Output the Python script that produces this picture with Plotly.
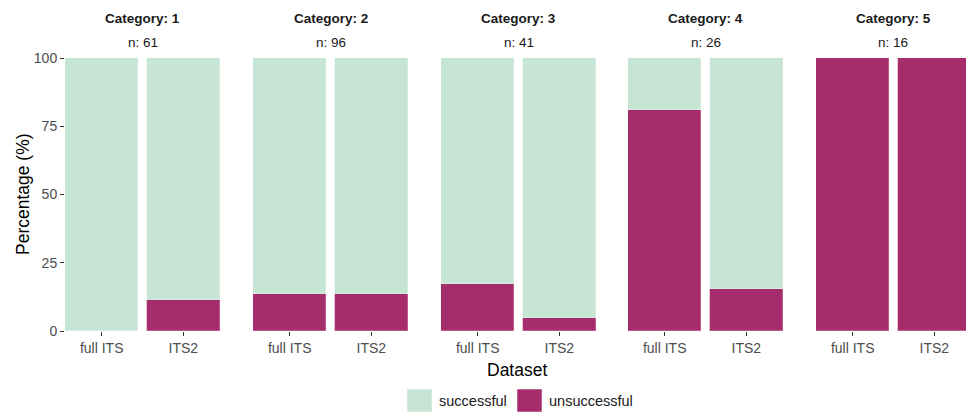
import plotly.graph_objects as go

categories = ["1", "2", "3", "4", "5"]
n_values = [61, 96, 41, 26, 16]
datasets = ["full ITS", "ITS2"]
unsuccessful = [[0.0, 11.5], [13.5, 13.5], [17.1, 4.9], [80.8, 15.4], [100.0, 100.0]]
successful = [[100 - v for v in row] for row in unsuccessful]
legend_labels = ["successful", "unsuccessful"]

col_succ = "#C7E5D4"
col_uns = "#A62D6B"
FONT = "Liberation Sans, Arial, sans-serif"

W, H = 966, 414
ml, mr, mt, mb = 65, 0, 58, 83
pw = W - ml - mr
ph = H - mt - mb
panel_px = [(65, 220), (253, 408), (441, 596), (628, 783), (816, 966)]
unit_per_px = 1.9 / 155.0


def px_x(p):
    return (p - ml) / pw


def px_y(p):
    return (mt + ph - p) / ph


fig = go.Figure()
for i, cat in enumerate(categories):
    ax = "" if i == 0 else str(i + 1)
    fig.add_trace(go.Bar(
        x=[1, 2], y=unsuccessful[i], name="unsuccessful", marker_color=col_uns,
        marker_line_width=0.5, marker_line_color="#D889AE",
        width=0.9, xaxis="x" + ax, yaxis="y", showlegend=False,
        hovertext=datasets))
    fig.add_trace(go.Bar(
        x=[1, 2], y=successful[i], name="successful", marker_color=col_succ,
        marker_line_width=0.5, marker_line_color="#E3F2E9",
        width=0.9, xaxis="x" + ax, yaxis="y", showlegend=False,
        hovertext=datasets))

for i, (a, b) in enumerate(panel_px):
    d0 = px_x(a)
    d1 = min(px_x(b), 1.0)
    rng_end = 0.55 + (b - a) * unit_per_px
    key = "xaxis" if i == 0 else f"xaxis{i + 1}"
    fig.layout[key] = dict(
        domain=[d0, d1], range=[0.55, rng_end], anchor="y",
        tickmode="array", tickvals=[1, 2], ticktext=datasets,
        ticks="outside", ticklen=4, tickwidth=1, tickcolor="#333333",
        tickfont=dict(family=FONT, size=14, color="#4D4D4D"),
        showgrid=False, zeroline=False, showline=False, fixedrange=True)
    cx = px_x((a + b) / 2) if i < 4 else px_x((a + 970) / 2)
    fig.add_annotation(text=f"<b>Category: {categories[i]}</b>", x=cx, y=px_y(18),
                       xref="paper", yref="paper", showarrow=False,
                       xanchor="center", yanchor="middle",
                       font=dict(family=FONT, size=13.5, color="#1A1A1A"))
    fig.add_annotation(text=f"n: {n_values[i]}", x=cx, y=px_y(42),
                       xref="paper", yref="paper", showarrow=False,
                       xanchor="center", yanchor="middle",
                       font=dict(family=FONT, size=13.5, color="#1A1A1A"))

# legend drawn as keys + labels
legend_colors = [col_succ, col_uns]
key_x = [407, 517]
for lab, colr, kx in zip(legend_labels, legend_colors, key_x):
    fig.add_shape(type="rect", xref="paper", yref="paper",
                  x0=px_x(kx), x1=px_x(kx + 25), y0=px_y(389), y1=px_y(412),
                  fillcolor=colr, line=dict(width=0.5, color="white"))
    fig.add_annotation(text=lab, x=px_x(kx + 30), y=px_y(401), xref="paper", yref="paper",
                       showarrow=False, xanchor="left", yanchor="middle",
                       font=dict(family=FONT, size=14.5, color="#1A1A1A"))

fig.update_layout(
    width=W, height=H, barmode="stack", bargap=0,
    margin=dict(l=ml, r=mr, t=mt, b=mb),
    paper_bgcolor="white", plot_bgcolor="white",
    yaxis=dict(range=[0, 100], tickvals=[0, 25, 50, 75, 100],
               ticks="outside", ticklen=4, tickwidth=1, tickcolor="#333333",
               tickfont=dict(family=FONT, size=14, color="#4D4D4D"),
               showgrid=False, zeroline=False, showline=False, fixedrange=True),
    showlegend=False,
)
fig.add_annotation(text="Percentage (%)", x=px_x(23), y=px_y(194), xref="paper", yref="paper",
                   showarrow=False, xanchor="center", yanchor="middle", textangle=-90,
                   font=dict(family=FONT, size=17.5, color="black"))
fig.add_annotation(text="Dataset", x=px_x(517), y=px_y(370), xref="paper", yref="paper",
                   showarrow=False, xanchor="center", yanchor="middle",
                   font=dict(family=FONT, size=17.5, color="black"))

fig.write_html("out.html", config={"displayModeBar": False},
               post_script="document.body.style.margin='0';document.body.style.overflow='hidden';")
